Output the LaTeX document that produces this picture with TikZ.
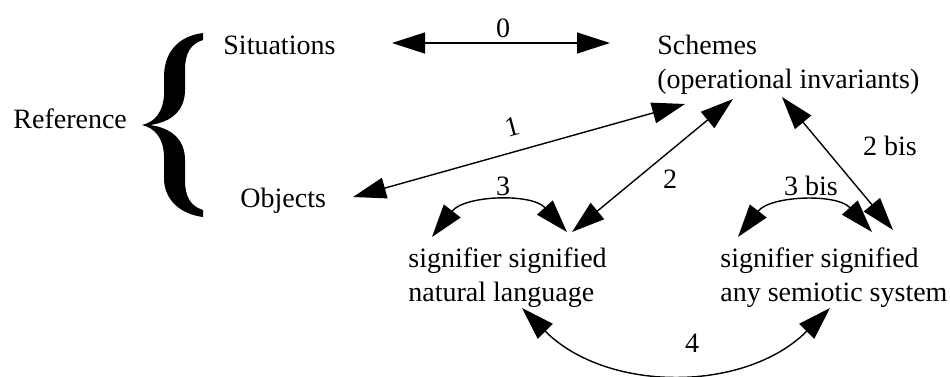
\documentclass[tikz,border=0pt]{standalone}
\usepackage{fontspec}
\setmainfont{Liberation Serif}
\usetikzlibrary{arrows.meta}
\begin{document}
\begin{tikzpicture}[x=0.5pt,y=-0.5pt,
  txt/.style={inner sep=0pt,anchor=base west,align=left,font=\fontsize{14}{17}\selectfont},
  lab/.style={inner sep=0pt,anchor=base,font=\fontsize{14}{17}\selectfont},
  dbl/.style={line width=0.7pt,{Triangle[length=16.5pt,width=10.5pt]}-{Triangle[length=16.5pt,width=10.5pt]}}]
\useasboundingbox (0,0) rectangle (950,376);
% texts
\node[txt] (ref) at (13,128) {Reference};
\node[txt] (sit) at (223,54) {Situations};
\node[txt] (obj) at (240,207) {Objects};
\node[txt] (sch) at (657,88) {Schemes\\(operational invariants)};
\node[txt] (nl) at (408,301) {signifier signified\\natural language};
\node[txt] (ss) at (720,301) {signifier signified\\any semiotic system};
% brace
\fill (203,33) .. controls (180,36) and (165,50) .. (164,75) -- (164,95)
  .. controls (163,112) and (155,122) .. (142,125)
  .. controls (155,128) and (163,138) .. (164,155) -- (164,180)
  .. controls (165,200) and (180,214) .. (203,217) -- (203,210)
  .. controls (190,206) and (185,196) .. (185,180) -- (185,160)
  .. controls (185,140) and (172,128) .. (150,125)
  .. controls (172,122) and (185,110) .. (185,90) -- (185,70)
  .. controls (185,54) and (190,44) .. (203,40) -- cycle;
% end points
\coordinate (a0) at (392,43);  \coordinate (b0) at (610,43);
\coordinate (a1) at (353,197); \coordinate (b1) at (685,104);
\coordinate (a2) at (733,99);  \coordinate (b2) at (572,232);
\coordinate (a2b) at (782,97); \coordinate (b2b) at (893,230);
\coordinate (a3) at (432,237); \coordinate (b3) at (567,232);
\coordinate (a3b) at (738,237); \coordinate (b3b) at (872,232);
\coordinate (a4) at (522,308); \coordinate (b4) at (830,308);
% connectors
\draw[dbl] (a0) -- (b0);
\draw[dbl] (a1) -- (b1);
\draw[dbl] (a2) -- (b2);
\draw[dbl] (a2b) -- (b2b);
\draw[dbl] (a3) to[bend left=50] (b3);
\draw[dbl] (a3b) to[bend left=50] (b3b);
\draw[dbl] (a4) to[bend right=45] (b4);
% labels
\node[lab] (l0) at (503,37) {0};
\node[inner sep=0pt,font=\fontsize{14}{17}\selectfont,rotate=15] (l1) at (512,127) {1};
\node[lab] (l2) at (670,188) {2};
\node[lab] (l2b) at (890,155) {2 bis};
\node[lab] (l3) at (503,195) {3};
\node[lab] (l3b) at (811,195) {3 bis};
\node[lab] (l4) at (692,352) {4};
\end{tikzpicture}
\end{document}
